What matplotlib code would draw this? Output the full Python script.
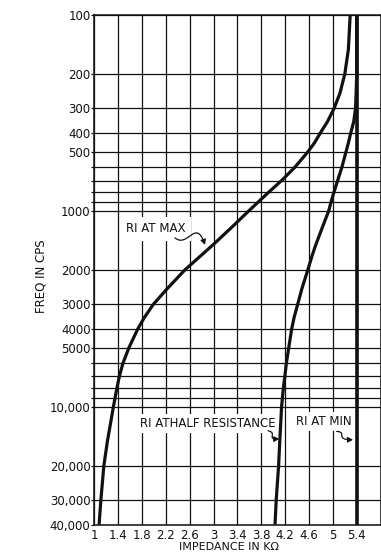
import matplotlib
matplotlib.use('Agg')
import matplotlib.pyplot as plt
from matplotlib.path import Path
from matplotlib.patches import FancyArrowPatch

# frequency points (cps)
freq = [100, 150, 200, 250, 300, 350, 400, 450, 500, 600, 700, 800, 900, 1000,
        1200, 1500, 1700, 2000, 2500, 3000, 3500, 4000, 5000, 6000, 7000, 8000,
        10000, 15000, 20000, 30000, 40000]

# impedance in K-ohm for each curve
riMax = [5.29, 5.26, 5.20, 5.12, 5.02, 4.91, 4.79, 4.69, 4.58, 4.36, 4.14, 3.93, 3.75, 3.59,
         3.32, 2.98, 2.78, 2.52, 2.22, 1.99, 1.84, 1.73, 1.58, 1.48, 1.42, 1.38,
         1.32, 1.22, 1.16, 1.11, 1.08]
riHalf = [5.40, 5.40, 5.40, 5.39, 5.38, 5.35, 5.30, 5.26, 5.22, 5.15, 5.08, 5.02, 4.97, 4.93,
          4.83, 4.71, 4.65, 4.58, 4.48, 4.41, 4.35, 4.31, 4.26, 4.22, 4.195, 4.17,
          4.14, 4.11, 4.09, 4.05, 4.03]
riMin = [5.4] * len(freq)

# axis ticks / grid
xTicks = [1, 1.4, 1.8, 2.2, 2.6, 3, 3.4, 3.8, 4.2, 4.6, 5, 5.4, 5.8]
xLabels = ['1', '1.4', '1.8', '2.2', '2.6', '3', '3.4', '3.8', '4.2', '4.6', '5', '5.4', '']
yTicks = [100, 200, 300, 400, 500, 600, 700, 800, 900, 1000, 2000, 3000, 4000, 5000,
          6000, 7000, 8000, 9000, 10000, 20000, 30000, 40000]
yLabels = ['100', '200', '300', '400', '500', '', '', '', '', '1000', '2000', '3000',
           '4000', '5000', '', '', '', '', '10,000', '20,000', '30,000', '40,000']

plt.rcParams['font.family'] = ['DejaVu Sans']
ink = '#111111'

fig = plt.figure( figsize = (3.81, 5.54), dpi = 100 )
ax = fig.add_axes( [0.2475, 0.0529, 0.7514, 0.9200] )

ax.set_yscale('log')
ax.set_xlim(1, 5.8)
ax.set_ylim(40000, 100)

ax.set_xticks( xTicks )
ax.set_xticklabels( xLabels, fontsize = 8.5 )
ax.set_yticks( yTicks )
ax.set_yticklabels( yLabels, fontsize = 8.5 )
ax.minorticks_off()
ax.tick_params( axis = 'y', length = 2.2, width = 0.9, pad = 0.5, color = ink, labelcolor = ink )
ax.tick_params( axis = 'x', length = 0, pad = 3.0, labelcolor = ink )

ax.grid( True, color = ink, linewidth = 0.9, zorder = 0 )
ax.set_axisbelow(True)
for sp in ax.spines.values():
    sp.set_color( ink ); sp.set_linewidth( 1.1 )

# curves
ax.plot( riMax, freq, color = ink, lw = 2.3, zorder = 4, solid_capstyle = 'butt', solid_joinstyle = 'round' )
ax.plot( riHalf, freq, color = ink, lw = 2.3, zorder = 4, solid_capstyle = 'butt', solid_joinstyle = 'round' )
ax.plot( riMin, freq, color = ink, lw = 2.6, zorder = 4, solid_capstyle = 'butt' )

box = dict( boxstyle = 'square,pad=0.25', fc = 'white', ec = 'none' )
ax.text( 2.035, 1236, 'RI AT MAX', fontsize = 8.5, ha = 'center', va = 'center',
         color = ink, bbox = dict( boxstyle = 'square,pad=0.45', fc = 'white', ec = 'none' ), zorder = 3 )
ax.text( 2.91, 12210, 'RI ATHALF RESISTANCE', fontsize = 8.5, ha = 'center', va = 'center',
         color = ink, bbox = box, zorder = 3 )
ax.text( 4.85, 11930, 'RI AT MIN', fontsize = 8.5, ha = 'center', va = 'center',
         color = ink, bbox = box, zorder = 3 )

# little wavy pointers
squiggles = [
    [(2.353, 1373), (2.57, 1560), (2.70, 1080), (2.856, 1491)],
    [(3.912, 13259), (4.080, 13573), (3.879, 14737), (4.100, 14565)],
    [(5.064, 13366), (5.253, 13415), (5.018, 14737), (5.338, 14737)],
]
for pts in squiggles:
    path = Path( pts, [Path.MOVETO, Path.CURVE4, Path.CURVE4, Path.CURVE4] )
    arr = FancyArrowPatch( path = path, arrowstyle = '-|>,head_length=3,head_width=1.6',
                           color = ink, lw = 0.9, transform = ax.transData, zorder = 5 )
    ax.add_patch( arr )

ax.set_xlabel( 'IMPEDANCE IN K\u03a9', fontsize = 8, color = ink )
ax.set_ylabel( 'FREQ IN CPS', fontsize = 8.5, color = ink )
ax.xaxis.set_label_coords( 0.4705, -0.0335 )
ax.yaxis.set_label_coords( -0.162, 0.488 )

fig.savefig( 'out.png', dpi = 100 )
